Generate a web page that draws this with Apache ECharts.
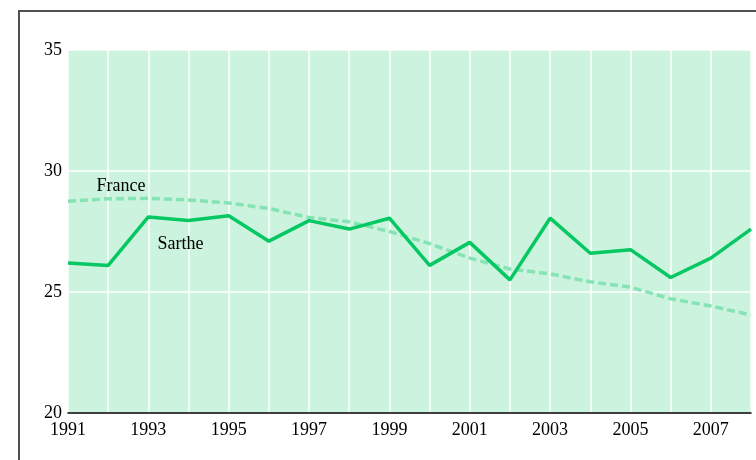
<!DOCTYPE html>
<html>
<head>
<meta charset="utf-8">
<script src="https://cdn.jsdelivr.net/npm/echarts@6/dist/echarts.min.js"></script>
<style>
html, body { margin: 0; padding: 0; background: #fff; }
#chart { width: 756px; height: 460px; }
</style>
</head>
<body>
<div id="chart"></div>
<script>
// data
var years = [1991, 1992, 1993, 1994, 1995, 1996, 1997, 1998, 1999, 2000,
	2001, 2002, 2003, 2004, 2005, 2006, 2007, 2008];
var sarthe = [26.2, 26.1, 28.1, 27.95, 28.15, 27.1, 27.95, 27.6, 28.05, 26.1,
	27.05, 25.5, 28.05, 26.6, 26.75, 25.6, 26.4, 27.6];
var france = [28.75, 28.85, 28.87, 28.8, 28.68, 28.45, 28.08, 27.9, 27.5, 27.0,
	26.4, 25.95, 25.75, 25.42, 25.2, 24.72, 24.42, 24.05];
var yTicks = [20, 25, 30, 35];
var seriesNames = ['Sarthe', 'France'];

var chart = (function () {
	var font = '"Liberation Serif", "DejaVu Serif", serif';

	function pairs(values) {
		var out = [];
		values.forEach(function (v, i) {
			out.push([years[i], v]);
		});
		return out;
	}

	function render() {
		var c = echarts.init(document.getElementById('chart'));
		var option = {
			animation: false,
			backgroundColor: '#fff',
			grid: {
				left: 68,
				top: 50,
				right: 5,
				bottom: 47,
				show: true,
				backgroundColor: '#cbf3de',
				borderWidth: 0
			},
			graphic: [{
				type: 'rect',
				shape: { x: 19, y: 11, width: 800, height: 520 },
				style: { fill: 'none', stroke: '#505050', lineWidth: 2 },
				silent: true
			}],
			xAxis: {
				type: 'value',
				min: years[0],
				max: years[years.length - 1],
				interval: 1,
				axisLine: { show: true, onZero: false, lineStyle: { color: '#000', width: 1.5 } },
				axisTick: { show: false },
				splitLine: { show: true, lineStyle: { color: '#fff', width: 1.5 } },
				axisLabel: {
					color: '#000',
					fontFamily: font,
					fontSize: 18,
					margin: 8,
					showMaxLabel: false,
					formatter: function (v) {
						return v % 2 === 1 ? String(v) : '';
					}
				}
			},
			yAxis: {
				type: 'value',
				min: yTicks[0],
				max: yTicks[yTicks.length - 1],
				interval: 5,
				axisLine: { show: false },
				axisTick: { show: false },
				splitLine: { show: true, lineStyle: { color: '#fff', width: 1.5 } },
				axisLabel: {
					color: '#000',
					fontFamily: font,
					fontSize: 18,
					margin: 6
				}
			},
			series: [{
				name: seriesNames[1],
				type: 'line',
				data: pairs(france),
				showSymbol: false,
				z: 2,
				lineStyle: { color: '#86e4b4', width: 3.5, type: [8, 4] },
				markPoint: {
					symbol: 'circle',
					symbolSize: 0,
					data: [{ coord: [1992.32, 29.35], value: seriesNames[1] }],
					label: { show: true, color: '#000', fontFamily: font, fontSize: 18, formatter: '{c}' }
				}
			}, {
				name: seriesNames[0],
				type: 'line',
				data: pairs(sarthe),
				showSymbol: false,
				z: 3,
				lineStyle: { color: '#06c862', width: 3.5 },
				markPoint: {
					symbol: 'circle',
					symbolSize: 0,
					data: [{ coord: [1993.8, 26.98], value: seriesNames[0] }],
					label: { show: true, color: '#000', fontFamily: font, fontSize: 18, formatter: '{c}' }
				}
			}]
		};
		c.setOption(option);
	}

	return {
		render: render
	};
})();

chart.render();
</script>
</body>
</html>
